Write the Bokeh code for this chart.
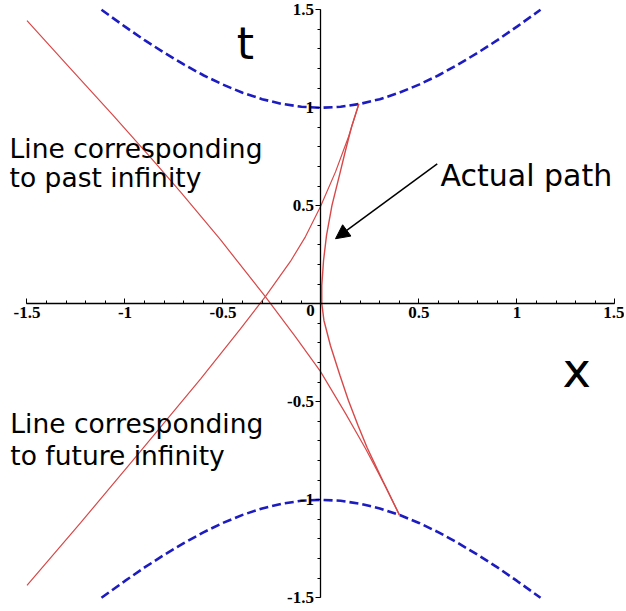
from bokeh.plotting import figure
from bokeh.models import (Range1d, FixedTicker, CustomJSTickFormatter, Label,
                          Arrow, NormalHead)
from bokeh.embed import file_html
from bokeh.resources import INLINE

# ---- data ----
hyp_x = [-1.12, -1.0, -0.9, -0.8, -0.7, -0.6, -0.5, -0.4, -0.3, -0.2, -0.1, 0.0,
         0.1, 0.2, 0.3, 0.4, 0.5, 0.6, 0.7, 0.8, 0.9, 1.0, 1.12]
hyp_t_upper = [1.50, 1.414, 1.345, 1.281, 1.221, 1.166, 1.118, 1.077, 1.044, 1.020, 1.005, 1.0,
               1.005, 1.020, 1.044, 1.077, 1.118, 1.166, 1.221, 1.281, 1.345, 1.414, 1.50]
hyp_t_lower = [-v for v in hyp_t_upper]

past_x = [-1.50, -1.278, -1.064, -0.870, -0.717, -0.513, -0.283, -0.130, -0.003,
          0.125, 0.227, 0.329, 0.40]
past_t = [1.445, 1.200, 0.965, 0.747, 0.571, 0.327, 0.035, -0.169, -0.345,
          -0.559, -0.738, -0.932, -1.077]

future_x = [-1.50, -1.227, -0.931, -0.614, -0.411, -0.283, -0.156, -0.079, -0.003,
            0.074, 0.140, 0.193]
future_t = [-1.437, -1.118, -0.764, -0.383, -0.128, 0.038, 0.216, 0.343, 0.495,
            0.673, 0.851, 1.019]

path_x = [0.193, 0.158, 0.125, 0.094, 0.056, 0.028, 0.013, 0.004, 0.004, 0.015,
          0.048, 0.097, 0.140, 0.189, 0.235, 0.314, 0.40]
path_t = [1.019, 0.910, 0.782, 0.655, 0.502, 0.348, 0.221, 0.093, 0.002, -0.085,
          -0.213, -0.366, -0.493, -0.621, -0.733, -0.901, -1.077]

x_tick_values = [-1.5, -1, -0.5, 0.5, 1, 1.5]
x_tick_labels = ["-1.5", "-1", "-0.5", "0.5", "1", "1.5"]
t_tick_values = [-1.5, -1, -0.5, 0.5, 1, 1.5]
t_tick_labels = ["-1.5", "-1", "-0.5", "0.5", "1", "1.5"]
minor_values = [round(-1.5 + 0.1 * i, 2) for i in range(31)]

# ---- figure ----
p = figure(width=624, height=609, output_backend="svg", toolbar_location=None,
           x_range=Range1d(-1.6352, 1.5485), y_range=Range1d(-1.5597, 1.5474),
           min_border=0, background_fill_color="white", border_fill_color="white")
p.outline_line_color = None
p.grid.visible = False

fmt_x = CustomJSTickFormatter(args=dict(vals=x_tick_values, labs=x_tick_labels),
                              code="const i = vals.indexOf(tick); return i >= 0 ? labs[i] : '';")
fmt_t = CustomJSTickFormatter(args=dict(vals=t_tick_values, labs=t_tick_labels),
                              code="const i = vals.indexOf(tick); return i >= 0 ? labs[i] : '';")

xa = p.xaxis[0]
xa.fixed_location = 0
xa.ticker = FixedTicker(ticks=x_tick_values, minor_ticks=minor_values)
xa.formatter = fmt_x
xa.bounds = (-1.5, 1.5)
xa.major_tick_in = 5
xa.major_tick_out = 0
xa.minor_tick_in = 3
xa.minor_tick_out = 0
xa.major_label_standoff = 3
ya = p.yaxis[0]
ya.fixed_location = 0
ya.ticker = FixedTicker(ticks=t_tick_values, minor_ticks=minor_values)
ya.formatter = fmt_t
ya.bounds = (-1.5, 1.5)
ya.major_tick_in = 0
ya.major_tick_out = 5
ya.minor_tick_in = 0
ya.minor_tick_out = 3
ya.major_label_standoff = 2
for ax in (xa, ya):
    ax.axis_line_color = "black"
    ax.axis_line_width = 1.3
    ax.major_tick_line_color = "black"
    ax.minor_tick_line_color = "black"
    ax.major_label_text_font = "Liberation Serif"
    ax.major_label_text_font_style = "bold"
    ax.major_label_text_font_size = "17px"
    ax.major_label_text_color = "black"

# hyperbolas
p.line(hyp_x, hyp_t_upper, line_color="#1c1cc0", line_width=2.6, line_dash="9 4")
p.line(hyp_x, hyp_t_lower, line_color="#1c1cc0", line_width=2.6, line_dash="9 4")

red = "#d84848"
p.line(past_x, past_t, line_color=red, line_width=1.2)
p.line(future_x, future_t, line_color=red, line_width=1.2)
p.line(path_x, path_t, line_color=red, line_width=1.4)

# origin label
p.add_layout(Label(x=-0.054, y=-0.034, text="0", text_align="center", text_baseline="middle",
                   text_font="Liberation Serif", text_font_style="bold",
                   text_font_size="17px", text_color="black"))

sans = "DejaVu Sans"
def lab(x, y, txt, size):
    p.add_layout(Label(x=x, y=y, text=txt, text_font=sans, text_font_size=size,
                       text_color="black", text_baseline="alphabetic", text_align="left"))

lab(-0.43, 1.327, "t", "44px")
lab(1.232, -0.340, "x", "48px")
lab(-1.589, 0.791, "Line corresponding", "26.5px")
lab(-1.589, 0.646, "to past infinity", "26.5px")
lab(-1.585, -0.612, "Line corresponding", "26.5px")
lab(-1.585, -0.774, "to future infinity", "26.5px")
lab(0.610, 0.655, "Actual path", "30px")

p.add_layout(Arrow(end=NormalHead(size=14, fill_color="black", line_color="black"),
                   x_start=0.593, y_start=0.714, x_end=0.074, y_end=0.332,
                   line_color="black", line_width=1.5))

open("out.html", "w").write(file_html(p, INLINE))
